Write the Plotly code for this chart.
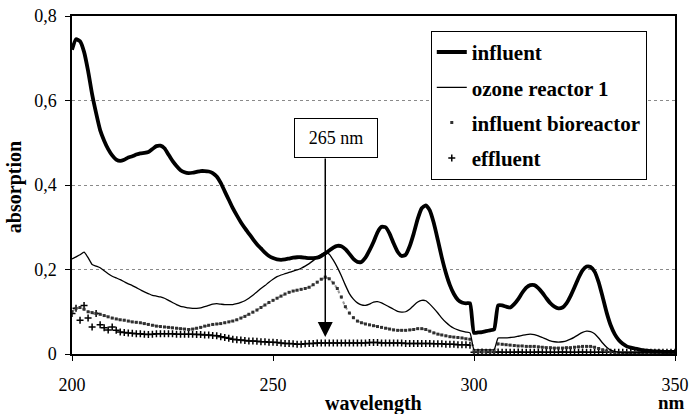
import plotly.graph_objects as go

wavelength = list(range(200, 351))

influent = [
    0.72, 0.745, 0.74, 0.715, 0.67, 0.615, 0.57, 0.53, 0.505, 0.485,
    0.47, 0.46, 0.457, 0.46, 0.465, 0.468, 0.472, 0.475, 0.476, 0.478,
    0.485, 0.492, 0.493, 0.487, 0.472, 0.457, 0.445, 0.435, 0.43, 0.428,
    0.429, 0.431, 0.433, 0.433, 0.432, 0.428, 0.42, 0.405, 0.385, 0.365,
    0.345, 0.328, 0.312, 0.298, 0.285, 0.272, 0.26, 0.25, 0.24, 0.232,
    0.227, 0.224, 0.223, 0.224, 0.226, 0.228, 0.229, 0.229, 0.228, 0.227,
    0.227, 0.228, 0.232, 0.238, 0.245, 0.252, 0.256, 0.255, 0.248, 0.237,
    0.225, 0.218, 0.218, 0.228, 0.245, 0.265, 0.288, 0.301, 0.3, 0.285,
    0.262, 0.242, 0.232, 0.235, 0.255, 0.285, 0.32, 0.345, 0.352, 0.34,
    0.31, 0.27, 0.228, 0.192, 0.163, 0.142, 0.128, 0.122, 0.12, 0.12,
    0.05, 0.051, 0.052, 0.054, 0.056, 0.058, 0.115, 0.115, 0.112, 0.11,
    0.118, 0.13, 0.145, 0.157, 0.163, 0.163, 0.156, 0.145, 0.132, 0.12,
    0.112, 0.108, 0.11, 0.12, 0.137, 0.158, 0.18, 0.198, 0.207, 0.206,
    0.195, 0.17, 0.135, 0.098, 0.068, 0.047, 0.033, 0.024, 0.018, 0.015,
    0.013, 0.011, 0.009, 0.008, 0.007, 0.006, 0.006, 0.005, 0.005, 0.005, 0.005,
]

ozone_reactor_1 = [
    0.225, 0.23, 0.235, 0.241, 0.228, 0.212, 0.208, 0.204, 0.197, 0.19,
    0.184, 0.18, 0.176, 0.171, 0.166, 0.162, 0.157, 0.152, 0.147, 0.143,
    0.139, 0.137, 0.135, 0.132, 0.127, 0.122, 0.117, 0.113, 0.111, 0.109,
    0.108, 0.108, 0.109, 0.112, 0.115, 0.118, 0.119, 0.118, 0.117, 0.117,
    0.117, 0.119, 0.122, 0.126, 0.132, 0.139, 0.147, 0.155, 0.162, 0.17,
    0.177, 0.183, 0.187, 0.19, 0.193, 0.196, 0.199, 0.203, 0.208, 0.214,
    0.221, 0.229, 0.236, 0.241, 0.236, 0.222, 0.205, 0.185, 0.163, 0.143,
    0.13, 0.121, 0.116, 0.115, 0.118, 0.123, 0.124, 0.121, 0.116, 0.111,
    0.106, 0.101, 0.099, 0.1, 0.106, 0.115, 0.123, 0.127, 0.126, 0.118,
    0.108, 0.097, 0.085, 0.075, 0.067, 0.061, 0.057, 0.054, 0.052, 0.05,
    0.01, 0.01, 0.01, 0.01, 0.01, 0.01, 0.038, 0.038, 0.038, 0.039,
    0.04, 0.042, 0.044, 0.046, 0.047, 0.046, 0.043, 0.039, 0.035, 0.031,
    0.029, 0.028, 0.029, 0.031, 0.035, 0.04, 0.046, 0.051, 0.054, 0.053,
    0.048, 0.038, 0.026, 0.016, 0.009, 0.006, 0.004, 0.003, 0.003, 0.003,
    0.003, 0.003, 0.003, 0.003, 0.003, 0.003, 0.003, 0.003, 0.003, 0.003, 0.003,
]

influent_bioreactor = [
    0.1, 0.108, 0.11, 0.106, 0.1, 0.098, 0.096, 0.094, 0.091, 0.088,
    0.085, 0.083, 0.081, 0.08, 0.078, 0.076, 0.075, 0.074, 0.072, 0.07,
    0.068, 0.066, 0.065, 0.064, 0.063, 0.062, 0.061, 0.06, 0.059, 0.058,
    0.059, 0.061, 0.063, 0.066, 0.068, 0.07, 0.071, 0.072, 0.074, 0.076,
    0.078, 0.081, 0.085, 0.089, 0.094, 0.099, 0.104, 0.11, 0.116, 0.122,
    0.127, 0.132, 0.137, 0.142, 0.146, 0.149, 0.151, 0.153, 0.155, 0.158,
    0.164, 0.17, 0.177, 0.182, 0.178, 0.168, 0.155, 0.135, 0.112, 0.097,
    0.086, 0.078, 0.074, 0.071, 0.069, 0.067, 0.065, 0.063, 0.061, 0.059,
    0.057, 0.056, 0.056, 0.056, 0.057, 0.058, 0.06, 0.06, 0.058, 0.054,
    0.05, 0.047, 0.045, 0.043, 0.041, 0.04, 0.039, 0.038, 0.036, 0.035,
    0.005, 0.005, 0.005, 0.005, 0.005, 0.005, 0.024, 0.023, 0.022, 0.021,
    0.02, 0.019, 0.019, 0.018, 0.018, 0.018, 0.017, 0.016, 0.015, 0.015,
    0.014, 0.014, 0.014, 0.015, 0.015, 0.016, 0.017, 0.018, 0.018, 0.018,
    0.016, 0.013, 0.01, 0.007, 0.005, 0.003, 0.003, 0.003, 0.003, 0.003,
    0.003, 0.003, 0.003, 0.003, 0.003, 0.003, 0.003, 0.003, 0.003, 0.003, 0.003,
]

effluent = [
    0.096, 0.108, 0.08, 0.115, 0.085, 0.064, 0.096, 0.069, 0.062, 0.057,
    0.064, 0.056, 0.052, 0.051, 0.05, 0.049, 0.048, 0.048, 0.047, 0.046,
    0.047, 0.048, 0.048, 0.048, 0.048, 0.048, 0.047, 0.047, 0.047, 0.047,
    0.047, 0.046, 0.046, 0.045, 0.045, 0.044, 0.043, 0.041, 0.039, 0.037,
    0.035, 0.034, 0.033, 0.032, 0.031, 0.031, 0.03, 0.029, 0.029, 0.028,
    0.028, 0.027, 0.026, 0.025, 0.025, 0.024, 0.023, 0.023, 0.024, 0.025,
    0.025, 0.026, 0.026, 0.026, 0.026, 0.026, 0.026, 0.026, 0.026, 0.026,
    0.026, 0.026, 0.026, 0.026, 0.027, 0.027, 0.027, 0.026, 0.026, 0.026,
    0.026, 0.026, 0.026, 0.025, 0.025, 0.025, 0.025, 0.025, 0.025, 0.025,
    0.024, 0.024, 0.024, 0.023, 0.023, 0.023, 0.022, 0.022, 0.022, 0.021,
    0.004, 0.004, 0.005, 0.004, 0.004, 0.004, 0.005, 0.004, 0.004, 0.004,
    0.004, 0.005, 0.004, 0.004, 0.004, 0.004, 0.005, 0.004, 0.004, 0.004,
    0.004, 0.004, 0.005, 0.004, 0.004, 0.004, 0.004, 0.005, 0.004, 0.004,
    0.004, 0.004, 0.004, 0.005, 0.004, 0.004, 0.004, 0.004, 0.004, 0.004,
    0.004, 0.004, 0.004, 0.004, 0.004, 0.004, 0.004, 0.004, 0.004, 0.004, 0.004,
]

series_names = ["influent", "ozone reactor 1", "influent bioreactor", "effluent"]
x_ticks = [200, 250, 300, 350]
y_ticks = [0, 0.2, 0.4, 0.6, 0.8]
y_tick_labels = ["0", "0,2", "0,4", "0,6", "0,8"]
arrow_wavelength = 263
arrow_label = "265 nm"

for s in (influent, ozone_reactor_1, influent_bioreactor, effluent):
    assert len(s) == len(wavelength), len(s)

FONT = "Liberation Serif"

fig = go.Figure()

# effluent: plus markers
fig.add_trace(go.Scatter(
    x=wavelength, y=effluent, name=series_names[3], mode="markers",
    marker=dict(symbol="cross-thin", size=5, color="black",
                line=dict(width=1.5, color="black")),
    legendgroup="d", legendrank=4,
))
# influent bioreactor: dotted gray line with small dark dots
fig.add_trace(go.Scatter(
    x=wavelength, y=influent_bioreactor, mode="lines", showlegend=False,
    line=dict(color="#9a9a9a", width=2, dash="dot"), legendgroup="c",
    hoverinfo="skip",
))
fig.add_trace(go.Scatter(
    x=wavelength, y=influent_bioreactor, name=series_names[2], mode="markers",
    marker=dict(symbol="square", size=3, color="#303030"),
    legendgroup="c", legendrank=3,
))
fig.add_trace(go.Scatter(
    x=wavelength, y=ozone_reactor_1, name=series_names[1], mode="lines",
    line=dict(color="black", width=1.3, shape="spline", smoothing=0.5),
    legendgroup="b", legendrank=2,
))
fig.add_trace(go.Scatter(
    x=wavelength, y=influent, name=series_names[0], mode="lines",
    line=dict(color="black", width=3.8, shape="spline", smoothing=0.5),
    legendgroup="a", legendrank=1,
))

fig.update_layout(
    width=690, height=414,
    margin=dict(l=72, r=15, t=16, b=60),
    paper_bgcolor="white", plot_bgcolor="white",
    font=dict(family=FONT, size=18, color="black"),
    separators=",.",
    showlegend=True,
    legend=dict(
        x=0.595, y=0.956, xanchor="left", yanchor="top",
        bgcolor="white", bordercolor="black", borderwidth=1,
        font=dict(family=FONT, size=21, color="black", weight="bold"),
        traceorder="grouped", tracegroupgap=5,
        itemwidth=30,
    ),
    xaxis=dict(
        range=[200, 350], tickvals=x_ticks,
        showline=True, linecolor="black", linewidth=1.5, mirror=True,
        ticks="outside", ticklen=5, tickcolor="black",
        showgrid=False, zeroline=False, automargin=False,
        tickfont=dict(family=FONT, size=18),
        ticklabelstandoff=9,
    ),
    yaxis=dict(
        range=[0, 0.8], tickvals=y_ticks, ticktext=y_tick_labels,
        showline=True, linecolor="black", linewidth=1.5, mirror=True,
        ticks="outside", ticklen=5, tickcolor="black",
        showgrid=True, gridcolor="#8a8a8a", griddash="dot", gridwidth=1,
        zeroline=False, automargin=False,
        tickfont=dict(family=FONT, size=18),
        ticklabelstandoff=5,
    ),
    annotations=[
        dict(x=arrow_wavelength, y=0.04, ax=arrow_wavelength, ay=0.466,
             xref="x", yref="y", axref="x", ayref="y", text="",
             showarrow=True, arrowhead=2, arrowsize=2, arrowwidth=1.5,
             arrowcolor="black"),
        dict(x=265.7, y=0.512, xref="x", yref="y", text=arrow_label,
             showarrow=False, xanchor="center", yanchor="middle",
             width=80, height=36, bgcolor="white", bordercolor="black",
             borderwidth=1, borderpad=1,
             font=dict(family=FONT, size=18, color="black")),
        dict(x=0.5, y=-0.146, xref="paper", yref="paper", text="<b>wavelength</b>",
             showarrow=False, xanchor="center", yanchor="middle",
             font=dict(family=FONT, size=20)),
        dict(x=0.995, y=-0.144, xref="paper", yref="paper", text="<b>nm</b>",
             showarrow=False, xanchor="center", yanchor="middle",
             font=dict(family=FONT, size=19)),
        dict(x=-0.096, y=0.494, xref="paper", yref="paper", text="<b>absorption</b>",
             showarrow=False, xanchor="center", yanchor="middle", textangle=-90,
             font=dict(family=FONT, size=20)),
    ],
)

fig.write_html(
    "out.html",
    config={"displayModeBar": False},
    post_script="document.body.style.margin='0';document.body.style.padding='0';",
)
